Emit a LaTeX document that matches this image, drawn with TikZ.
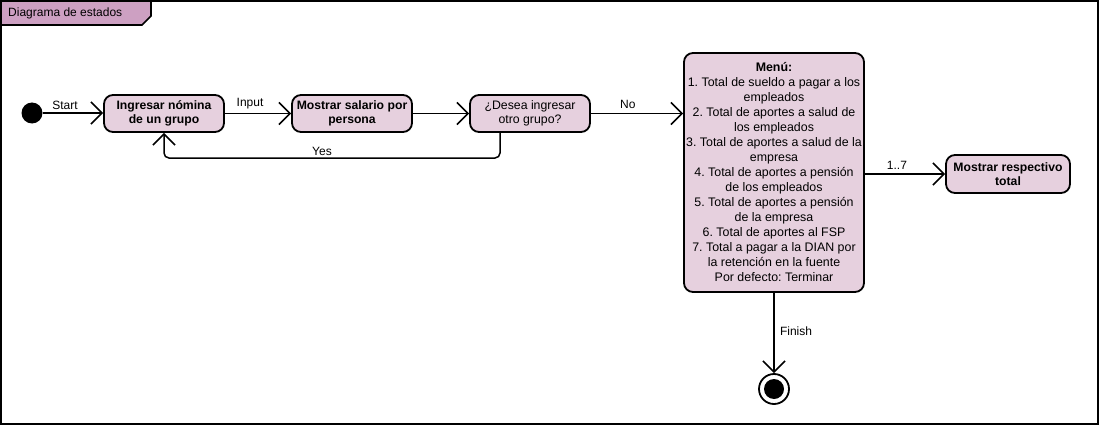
\documentclass[tikz,border=0pt]{standalone}
\usepackage{fontspec}
\setmainfont{Liberation Sans}
\usetikzlibrary{arrows.meta}
\definecolor{nodefill}{HTML}{E6D0DE}
\definecolor{tabfill}{HTML}{CDA0C2}
\tikzset{
  state/.style={draw, line width=1.8pt, rounded corners=9pt, fill=nodefill, align=center,
    inner sep=0pt, font=\fontsize{12.2}{14.5}\selectfont\bfseries},
  conn/.style={line width=1.5pt, -{Straight Barb[length=11pt,width=22pt,line width=1.6pt]}},
  lbl/.style={font=\fontsize{12}{14}\selectfont, inner sep=1pt},
}
\begin{document}
\frenchspacing
\begin{tikzpicture}[x=1pt,y=-1pt]
\useasboundingbox (0,0) rectangle (1099,425);
\fill[white] (0,0) rectangle (1099,425);
% frame and tab
\draw[fill=tabfill, line width=1.6pt] (1,1) -- (151,1) -- (151,16) -- (142,25) -- (1,25);
\node[lbl, anchor=west] (title) at (7,13) {Diagrama de estados};
\draw[line width=2pt] (1,1) rectangle (1098,424);
% nodes
\node[circle, fill=black, minimum size=21pt, inner sep=0pt] (init) at (32,113) {};
\node[state, minimum width=120pt, minimum height=37pt] (n1) at (164,113.5) {Ingresar nómina\\de un grupo};
\node[state, minimum width=120pt, minimum height=37pt] (n2) at (352,113.5) {Mostrar salario por\\persona};
\node[state, minimum width=120pt, minimum height=37pt, font=\fontsize{12.3}{14.5}\selectfont\mdseries] (n3) at (530,113.5) {¿Desea ingresar\\otro grupo?};
\node[state, minimum width=180pt, minimum height=239pt, font=\fontsize{12.4}{15}\selectfont] (menu) at (774,172.5) {\textbf{Menú:}\\1. Total de sueldo a pagar a los\\empleados\\2. Total de aportes a salud de\\los empleados\\3. Total de aportes a salud de la\\empresa\\4. Total de aportes a pensión\\de los empleados\\5. Total de aportes a pensión\\de la empresa\\6. Total de aportes al FSP\\7. Total a pagar a la DIAN por\\la retención en la fuente\\Por defecto: Terminar};
\node[state, minimum width=124pt, minimum height=38pt] (n5) at (1008,174) {Mostrar respectivo\\total};
\node[circle, draw, line width=1.8pt, fill=white, minimum size=30pt, inner sep=0pt] (fin) at (774,389) {};
\node[circle, fill=black, minimum size=20pt, inner sep=0pt] (finin) at (fin.center) {};
% edges
\draw[conn] (init) -- (n1.west |- init) node[lbl, pos=0.37, above=2pt] {Start};
\draw[conn] (n1) -- (n2) node[lbl, pos=0.38, above=3pt] {Input};
\draw[conn] (n2) -- (n3);
\draw[conn] (n3.east) -- (menu.west |- n3.east) node[lbl, pos=0.4, above=3pt] {No};
\coordinate (y1) at (500,158);
\coordinate (y2) at (164,158);
\draw[conn, rounded corners=5pt] (n3.south -| y1) -- (y1) -- (y2) -- (n1.south);
\node[lbl] (yes) at (322,151) {Yes};
\draw[conn] (menu.east |- n5.west) -- (n5.west) node[lbl, pos=0.4, above=3pt] {1..7};
\draw[conn] (menu.south) -- (fin.north);
\node[lbl] (finish) at (796,331) {Finish};
\end{tikzpicture}
\end{document}
